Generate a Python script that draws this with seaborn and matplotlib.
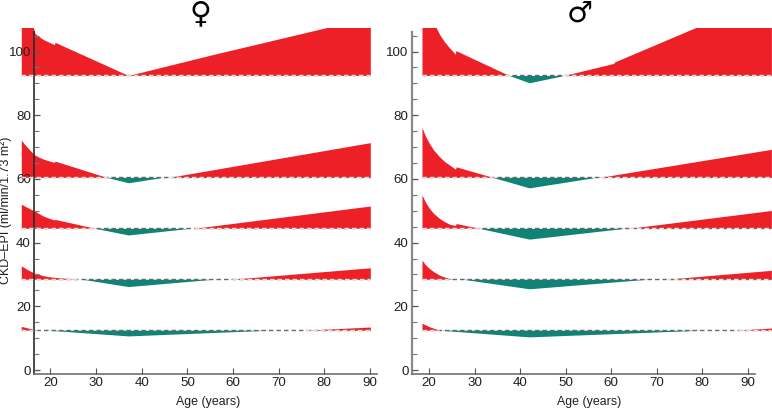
import numpy as np
import pandas as pd
import matplotlib
matplotlib.use("Agg")
import matplotlib.pyplot as plt
import seaborn as sns

sns.set_theme(style="white")
plt.rcParams['font.family'] = ['Liberation Sans', 'DejaVu Sans']

RED = "#EE2027"
TEAL = "#0F8376"
INK = "#231F20"

# baselines
levels = [92.5, 60.5, 44.5, 28.5, 12.5]

# Female
f_age_1 = [13.6, 16.2, 16.6, 17.5, 18.4, 19.6, 20.84, 21.0, 37.07, 55.7, 81.3, 90.1]
f_val_1 = [118, 107.8, 105.7, 104.7, 103.8, 103.0, 102.2, 102.9, 92.5, 99.1, 107.8, 111]
f_age_2 = [13.6, 14.2, 14.8, 15.7, 16.6, 17.5, 18.5, 19.6, 20.84, 21.0, 32.3, 37.07, 44.7, 46.0, 90.1]
f_val_2 = [72.2, 71.1, 70.1, 68.7, 67.5, 66.8, 66.2, 65.7, 65.2, 65.6, 60.5, 58.8, 60.5, 60.5, 71.4]
f_age_3 = [13.6, 14.2, 15.0, 15.8, 16.6, 17.5, 18.5, 19.6, 20.84, 21.0, 29.75, 37.07, 50.6, 51.5, 90.1]
f_val_3 = [52.1, 51.6, 51.0, 50.4, 49.9, 49.1, 48.3, 47.7, 47.1, 47.3, 44.5, 42.4, 44.5, 44.5, 51.5]
f_age_4 = [13.6, 14.2, 15.0, 15.8, 16.6, 17.5, 18.5, 19.6, 20.84, 25.7, 27.0, 37.07, 55.7, 59.7, 90.1]
f_val_4 = [32.7, 32.2, 31.5, 30.9, 30.4, 30.0, 29.6, 29.3, 29.1, 28.5, 28.5, 26.2, 28.5, 28.5, 32.1]
f_age_5 = [13.6, 17.0, 19.5, 37.07, 68.1, 75.8, 90.1]
f_val_5 = [13.7, 12.5, 12.5, 10.7, 12.5, 12.5, 13.5]

# Male
m_age_1 = [18.46, 20.0, 21.5, 22.4, 23.4, 24.6, 25.8, 25.9, 37.6, 42.03, 49.7, 60.6, 60.7, 79.0, 95.2]
m_val_1 = [125, 115, 107.8, 105.2, 103.1, 101.0, 99.2, 100.3, 92.5, 90.2, 92.5, 96.3, 96.7, 107.8, 118]
m_age_2 = [18.46, 19.2, 20.07, 21.0, 22.3, 23.4, 24.5, 25.8, 26.0, 34.0, 42.03, 56.7, 57.5, 95.2]
m_val_2 = [76.2, 73.5, 71.2, 69.1, 67.0, 65.5, 64.4, 63.1, 63.8, 60.5, 57.2, 60.5, 60.5, 69.3]
m_age_3 = [18.46, 19.2, 20.07, 21.0, 22.3, 23.4, 24.5, 25.8, 26.0, 31.0, 42.03, 63.1, 64.0, 95.2]
m_val_3 = [55.0, 52.8, 50.8, 49.2, 47.6, 46.6, 45.8, 45.4, 46.0, 44.5, 41.1, 44.5, 44.5, 50.1]
m_age_4 = [18.46, 19.2, 20.07, 21.0, 22.3, 23.4, 25.05, 27.4, 42.03, 68.0, 72.0, 95.2]
m_val_4 = [34.5, 33.1, 31.9, 30.9, 29.8, 29.2, 28.5, 28.5, 25.5, 28.5, 28.5, 31.3]
m_age_5 = [18.46, 20.07, 22.3, 42.03, 80.1, 87.8, 95.2]
m_val_5 = [14.7, 13.6, 12.5, 10.4, 12.5, 12.5, 13.2]

female = [(f_age_1, f_val_1), (f_age_2, f_val_2), (f_age_3, f_val_3), (f_age_4, f_val_4), (f_age_5, f_val_5)]
male = [(m_age_1, m_val_1), (m_age_2, m_val_2), (m_age_3, m_val_3), (m_age_4, m_val_4), (m_age_5, m_val_5)]

x_ticks = [20, 30, 40, 50, 60, 70, 80, 90]
y_major = [0, 20, 40, 60, 80, 100]
y_minor = [5, 10, 15, 25, 30, 35, 45, 50, 55, 65, 70, 75, 85, 90, 95, 105]

W, H = 772, 409
fig = plt.figure(figsize=(W / 100, H / 100), dpi=100)


def draw(rect, xlim, spine_x, series, spine_color, spine_lw, symbol, sym_xy, sym_size, xlabel_frac):
    l, t, r, b = rect
    ax = fig.add_axes([l / W, 1 - b / H, (r - l) / W, (b - t) / H])
    ax.patch.set_alpha(0)
    ax.set_axisbelow(False)
    for base, (age, val) in zip(levels, series):
        age = np.array(age, float)
        val = np.array(val, float)
        ax.fill_between(age, base, np.maximum(val, base), color=RED, lw=0, zorder=1)
        ax.fill_between(age, base, np.minimum(val, base), color=TEAL, lw=0, zorder=1)
        line = pd.DataFrame({"Age": age, "v": np.full(age.size, base)})
        sns.lineplot(data=line, x="Age", y="v", ax=ax, color="#686868", lw=1.0,
                     linestyle=(0, (3.2, 2.2)), zorder=3, errorbar=None, estimator=None)
        # dashes read white on the red fill
        start = None
        for i in range(len(age) - 1):
            pos = val[i] > base or val[i + 1] > base
            if pos and start is None:
                start = age[i]
            if start is not None and (not pos or i == len(age) - 2):
                end = age[i + 1] if pos else age[i]
                ax.plot([start, end], [base, base], color="#F6D7D4", lw=1.0,
                        linestyle=(0, (3.2, 2.2)), zorder=4)
                start = None
    ax.set_xlim(*xlim)
    ax.set_ylim(-1.16, 107.4)
    for s in ("top", "right"):
        ax.spines[s].set_visible(False)
    ax.spines["left"].set_position(("data", spine_x))
    ax.spines["left"].set_bounds(-1.16, 106)
    ax.spines["left"].set_color(spine_color)
    ax.spines["left"].set_linewidth(spine_lw)
    ax.spines["bottom"].set_bounds(spine_x, 91.5)
    ax.spines["bottom"].set_color("#6f6f6f")
    ax.spines["bottom"].set_linewidth(1.2)
    ax.set_xticks(x_ticks)
    ax.set_yticks(y_major)
    ax.set_yticks(y_minor, minor=True)
    ax.tick_params(axis="x", which="major", direction="in", length=4.2, width=0.8, color="#555555",
                   labelsize=9.6, labelcolor=INK, pad=2.5, bottom=True)
    ax.tick_params(axis="y", which="major", direction="in", length=4.2, width=0.9, color="#555555",
                   labelsize=9.6, labelcolor=INK, pad=2.5, left=True)
    ax.tick_params(axis="y", which="minor", direction="in", length=3.8, width=0.8, color="#777777", left=True)
    ax.set_xlabel("Age (years)", fontsize=8.9, color=INK, labelpad=6)
    ax.xaxis.set_label_coords(xlabel_frac, -28.5 / (b - t), transform=ax.transAxes)
    ax.xaxis.label.set_va("center")
    ax.set_ylabel("")
    fig.text(sym_xy[0] / W, 1 - sym_xy[1] / H, symbol, fontsize=sym_size, ha="center", va="center",
             family="DejaVu Sans", color="black")
    return ax


draw((21.3, 28, 376.7, 373.7), (13.6, 91.5), 16.45, female, "#2b2b2b", 1.2, "\u2640", (200.5, 13.5), 21.5, 0.525)
draw((412, 28, 771.4, 373.7), (16.27, 95.2), 16.27, male, "#8a8a8a", 1.6, "\u2642", (580, 13.5), 21, 0.4925)

fig.text(5.5 / W, 1 - 210.5 / H, "CKD\u2013EPI (ml/min/1.73 m\u00b2)", rotation=90, fontsize=9.0,
         color=INK, ha="center", va="center")

fig.savefig("out.png", dpi=100)
